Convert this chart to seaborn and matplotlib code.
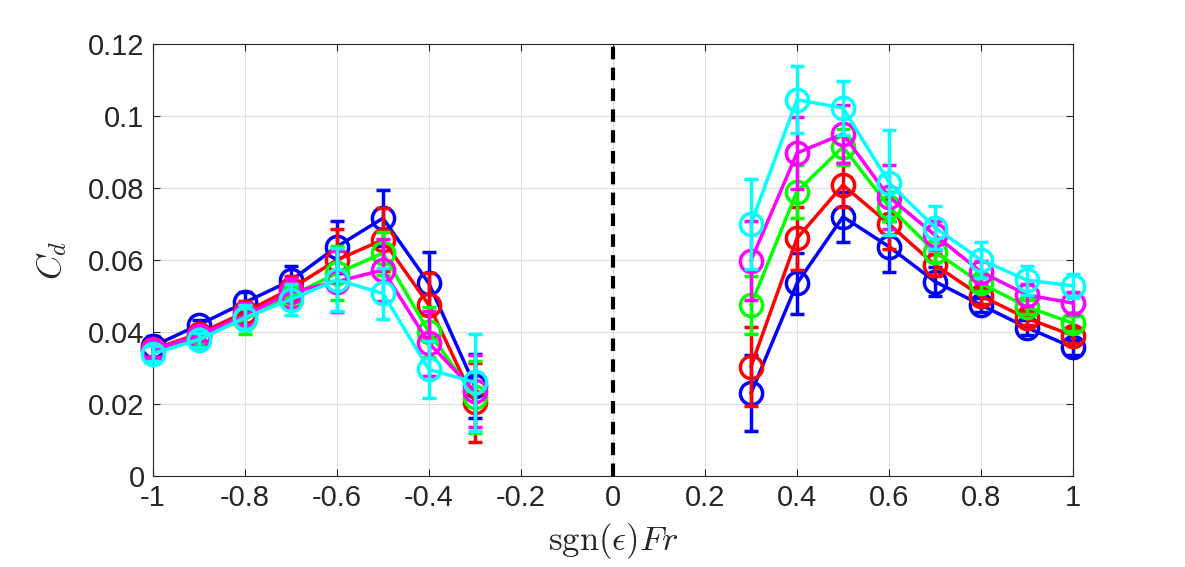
import numpy as np
import pandas as pd
import matplotlib
matplotlib.use("Agg")
import matplotlib.pyplot as plt
import seaborn as sns

# x positions (negative branch and positive branch are drawn separately)
fr_neg = [-1.0, -0.9, -0.8, -0.7, -0.6, -0.5, -0.4, -0.3]
fr_pos = [0.3, 0.4, 0.5, 0.6, 0.7, 0.8, 0.9, 1.0]

series_names = ["blue", "red", "green", "magenta", "cyan"]
series_colors = ["#0000ff", "#ff0000", "#00ff00", "#ff00ff", "#00ffff"]

cd_neg = {
    "blue":    [0.0360, 0.0420, 0.0482, 0.0543, 0.0637, 0.0716, 0.0535, 0.0250],
    "red":     [0.0352, 0.0395, 0.0455, 0.0520, 0.0600, 0.0656, 0.0475, 0.0205],
    "green":   [0.0350, 0.0385, 0.0435, 0.0500, 0.0563, 0.0619, 0.0400, 0.0220],
    "magenta": [0.0350, 0.0390, 0.0446, 0.0510, 0.0540, 0.0572, 0.0369, 0.0235],
    "cyan":    [0.0340, 0.0378, 0.0440, 0.0490, 0.0545, 0.0507, 0.0296, 0.0260],
}
err_neg = {
    "blue":    [0.0030, 0.0012, 0.0030, 0.0040, 0.0072, 0.0078, 0.0088, 0.0090],
    "red":     [0.0025, 0.0015, 0.0030, 0.0035, 0.0085, 0.0088, 0.0090, 0.0110],
    "green":   [0.0020, 0.0015, 0.0040, 0.0035, 0.0075, 0.0060, 0.0070, 0.0100],
    "magenta": [0.0020, 0.0015, 0.0035, 0.0040, 0.0085, 0.0085, 0.0090, 0.0100],
    "cyan":    [0.0020, 0.0020, 0.0035, 0.0042, 0.0088, 0.0070, 0.0080, 0.0135],
}
cd_pos = {
    "blue":    [0.0230, 0.0535, 0.0720, 0.0637, 0.0540, 0.0475, 0.0412, 0.0357],
    "red":     [0.0304, 0.0660, 0.0808, 0.0700, 0.0586, 0.0500, 0.0438, 0.0390],
    "green":   [0.0475, 0.0790, 0.0914, 0.0748, 0.0623, 0.0535, 0.0470, 0.0424],
    "magenta": [0.0598, 0.0897, 0.0950, 0.0775, 0.0669, 0.0567, 0.0503, 0.0480],
    "cyan":    [0.0700, 0.1045, 0.1022, 0.0815, 0.0690, 0.0600, 0.0544, 0.0528],
}
err_pos = {
    "blue":    [0.0106, 0.0085, 0.0070, 0.0070, 0.0040, 0.0020, 0.0020, 0.0020],
    "red":     [0.0110, 0.0088, 0.0060, 0.0070, 0.0030, 0.0022, 0.0020, 0.0020],
    "green":   [0.0080, 0.0073, 0.0050, 0.0040, 0.0030, 0.0022, 0.0020, 0.0020],
    "magenta": [0.0110, 0.0100, 0.0080, 0.0090, 0.0040, 0.0030, 0.0030, 0.0030],
    "cyan":    [0.0125, 0.0093, 0.0075, 0.0145, 0.0060, 0.0050, 0.0040, 0.0033],
}

rows = []
for name in series_names:
    for side, xs, ys, es in [("neg", fr_neg, cd_neg[name], err_neg[name]),
                             ("pos", fr_pos, cd_pos[name], err_pos[name])]:
        for x, y, e in zip(xs, ys, es):
            rows.append({"series": name, "side": side, "Fr": x, "Cd": y, "err": e})
df = pd.DataFrame(rows)

sns.set_theme(style="ticks")
plt.rcParams["font.family"] = ["Liberation Sans", "DejaVu Sans"]
plt.rcParams["mathtext.fontset"] = "cm"

fig = plt.figure(figsize=(11.85, 5.67), dpi=100)
ax = fig.add_axes([0.129, 0.1605, 0.7765, 0.762])

for i, (name, col) in enumerate(zip(series_names, series_colors)):
    sub = df[df["series"] == name]
    for side in ["neg", "pos"]:
        s = sub[sub["side"] == side]
        eb = ax.errorbar(s["Fr"], s["Cd"], yerr=s["err"], fmt="none", ecolor=col,
                         elinewidth=2.5, capsize=5, capthick=2.5, zorder=3 + i)
        for art in eb.lines[1] + eb.lines[2]:
            art.set_clip_on(False)
        sns.lineplot(data=s, x="Fr", y="Cd", ax=ax, color=col, lw=2.5,
                     marker="o", markersize=16, markerfacecolor="none",
                     markeredgecolor=col, markeredgewidth=2.5,
                     estimator=None, sort=False, zorder=3 + i, clip_on=False)

ax.axvline(0, color="black", ls="--", lw=3, dashes=(3, 2), zorder=2)

ax.set_xlim(-1, 1)
ax.set_ylim(0, 0.12)
ax.set_xticks(np.arange(-1, 1.01, 0.2))
ax.set_xticklabels(["-1", "-0.8", "-0.6", "-0.4", "-0.2", "0", "0.2", "0.4", "0.6", "0.8", "1"])
ax.set_yticks(np.arange(0, 0.121, 0.02))
ax.set_yticklabels(["0", "0.02", "0.04", "0.06", "0.08", "0.1", "0.12"])
ax.grid(True, color="#dedede", lw=0.8)
ax.tick_params(direction="in", top=True, right=True, labelsize=21,
               length=5, width=0.8, colors="#262626", pad=6)
for sp in ax.spines.values():
    sp.set_visible(True)
    sp.set_color("#262626")
    sp.set_linewidth(0.8)

ax.set_xlabel(r"$\mathrm{sgn}(\epsilon)Fr$", fontsize=25, color="#262626", labelpad=6)
ax.set_ylabel(r"$C_d$", fontsize=25, color="#262626", labelpad=14)

fig.savefig("out.png", dpi=100)
